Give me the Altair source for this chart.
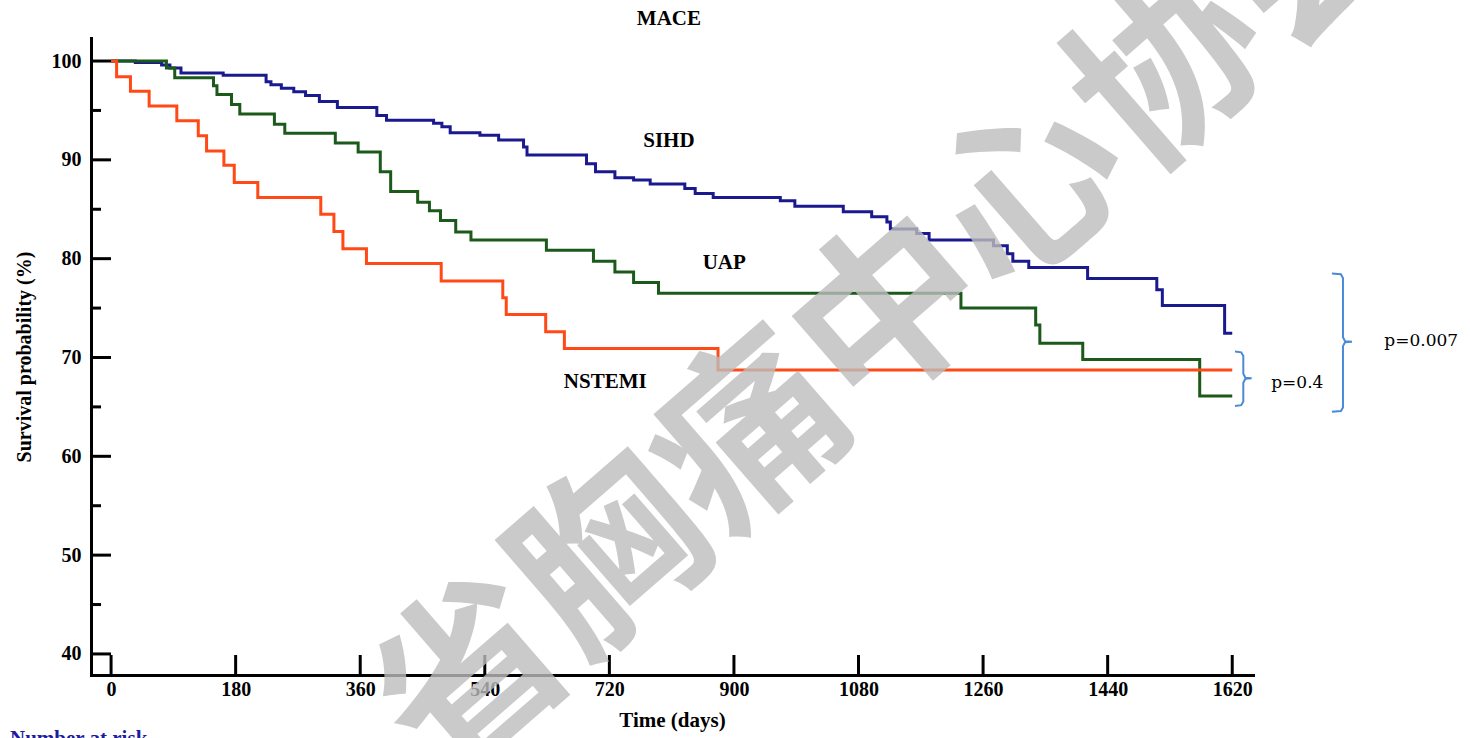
import altair as alt
import pandas as pd

# ---------------- data ----------------
groups = ["SIHD", "UAP", "NSTEMI"]
colors = ["#1a1a8e", "#1b5a1b", "#ff4a17"]

sihd_days = [0, 35, 73, 85, 101, 162, 224, 231, 246, 264, 281, 301, 327, 384, 398, 466, 478, 490,
             533, 560, 596, 601, 687, 700, 728, 755, 779, 829, 844, 870, 967, 988, 1058, 1099,
             1121, 1126, 1164, 1182, 1275, 1295, 1303, 1326, 1411, 1511, 1519, 1609, 1620]
sihd_surv = [100, 99.85, 99.6, 99.3, 98.8, 98.55, 97.9, 97.6, 97.25, 96.9, 96.5, 95.9, 95.3, 94.5,
             94.0, 93.7, 93.35, 92.75, 92.5, 92.0, 91.3, 90.5, 89.6, 88.8, 88.2, 87.95, 87.55, 87.1,
             86.6, 86.2, 85.85, 85.3, 84.75, 84.25, 83.7, 83.0, 82.55, 81.9, 81.3, 80.5, 79.75, 79.1,
             78.0, 76.85, 75.25, 72.45, 72.45]

uap_days = [0, 80, 92, 148, 153, 174, 186, 236, 251, 324, 357, 389, 404, 443, 460, 476, 498, 520,
            629, 697, 728, 755, 791, 1228, 1336, 1342, 1404, 1573, 1620]
uap_surv = [100, 99.3, 98.3, 97.5, 96.6, 95.6, 94.65, 93.6, 92.7, 91.7, 90.8, 88.8, 86.8, 85.7,
            84.85, 83.85, 82.7, 81.9, 80.85, 79.75, 78.65, 77.6, 76.5, 75.0, 73.3, 71.45, 69.8,
            66.1, 66.1]

nstemi_days = [0, 8, 28, 55, 95, 126, 138, 163, 178, 212, 303, 322, 335, 369, 477, 566, 571, 628,
               655, 877, 1620]
nstemi_surv = [100, 98.4, 96.95, 95.45, 93.95, 92.45, 90.9, 89.45, 87.7, 86.2, 84.5, 82.75, 81.0,
               79.5, 77.75, 76.05, 74.35, 72.6, 70.9, 68.73, 68.73]

x_ticks = [0, 180, 360, 540, 720, 900, 1080, 1260, 1440, 1620]
y_major = [40, 50, 60, 70, 80, 90, 100]
y_minor = [45, 55, 65, 75, 85, 95]

# text annotations (day, survival)
label_text = ["SIHD", "UAP", "NSTEMI", "MACE"]
label_day = [806, 886, 714, 806]
label_surv = [91.9, 79.6, 67.5, 104.3]

# p-value annotations
p_text = ["p=0.4", "p=0.007"]
p_day = [1714, 1893]
p_surv = [67.4, 71.7]

# braces: hook, bar, tip (days) ; top, mid, bottom (survival)
brace_hook = [1624, 1764]
brace_bar = [1636, 1780]
brace_tip = [1648, 1793]
brace_top = [70.6, 78.5]
brace_mid = [67.9, 71.6]
brace_bot = [65.1, 64.5]

watermark = "省胸痛中心协会"

# ---------------- build tables ----------------
rows = []
for g, ds, ss in zip(groups, [sihd_days, uap_days, nstemi_days],
                     [sihd_surv, uap_surv, nstemi_surv]):
    for d, s in zip(ds, ss):
        rows.append({"group": g, "day": d, "surv": s})
df = pd.DataFrame(rows)

brows = []
for b in range(2):
    h, bar, tip = brace_hook[b], brace_bar[b], brace_tip[b]
    t, m, bt = brace_top[b], brace_mid[b], brace_bot[b]
    pts = [(h, t), (bar - 3, t - 0.08), (bar, t - 0.45), (bar, m + 0.45), (bar + 3, m + 0.05),
           (tip, m), (bar + 3, m - 0.05), (bar, m - 0.45), (bar, bt + 0.45), (bar - 3, bt + 0.08),
           (h, bt)]
    for i, (xx, yy) in enumerate(pts):
        brows.append({"b": b, "i": i, "day": xx, "surv": yy})
bdf = pd.DataFrame(brows)

W, H = 1162, 637
xs = alt.Scale(domain=[-29, 1650], nice=False, zero=False)
ys = alt.Scale(domain=[37.87, 102.33], nice=False, zero=False)
SERIF = "Liberation Serif"

x_axis = alt.Axis(values=x_ticks, format="d", ticks=False, grid=False, domainColor="black",
                  domainWidth=3, domainCap="square", labelFont=SERIF, labelFontWeight="bold",
                  labelFontSize=20, labelColor="black", labelPadding=4, labelFlush=False,
                  title="Time (days)", titleFont=SERIF, titleFontWeight="bold", titleFontSize=21,
                  titleColor="black", titlePadding=10)
y_axis = alt.Axis(values=y_major, format="d", ticks=False, grid=False, domainColor="black",
                  domainWidth=3, domainCap="square", labelFont=SERIF, labelFontWeight="bold",
                  labelFontSize=20, labelColor="black", labelPadding=10, labelFlush=False,
                  title="Survival probability (%)", titleFont=SERIF, titleFontWeight="bold",
                  titleFontSize=20, titleColor="black", titlePadding=17)

X = alt.X("day:Q", scale=xs, axis=x_axis)
Y = alt.Y("surv:Q", scale=ys, axis=y_axis)

lines = alt.Chart(df).mark_line(interpolate="step-after", strokeWidth=3).encode(
    x=X, y=Y,
    color=alt.Color("group:N", scale=alt.Scale(domain=groups, range=colors), legend=None),
)

ymaj = alt.Chart(pd.DataFrame({"surv": y_major})).mark_rule(strokeWidth=3, color="black").encode(
    y=Y, x=alt.value(0), x2=alt.value(20))
ymin = alt.Chart(pd.DataFrame({"surv": y_minor})).mark_rule(strokeWidth=3, color="black").encode(
    y=Y, x=alt.value(0), x2=alt.value(10))
xtk = alt.Chart(pd.DataFrame({"day": x_ticks})).mark_rule(strokeWidth=3, color="black").encode(
    x=X, y=alt.value(H), y2=alt.value(H - 20))

labels = alt.Chart(pd.DataFrame({"t": label_text, "day": label_day, "surv": label_surv})).mark_text(
    font=SERIF, fontWeight="bold", fontSize=21, color="black", align="center", baseline="middle"
).encode(x=X, y=Y, text="t:N")

plabels = alt.Chart(pd.DataFrame({"t": p_text, "day": p_day, "surv": p_surv})).mark_text(
    font="DejaVu Serif", fontSize=17, color="black", align="center", baseline="middle"
).encode(x=X, y=Y, text="t:N")

braces = alt.Chart(bdf).mark_line(color="#4a8ad6", strokeWidth=2, interpolate="linear").encode(
    x=X, y=Y, detail="b:N", order="i:Q")

risk = alt.Chart(pd.DataFrame({"t": ["Number at risk"], "day": [-146], "surv": [30.8]})).mark_text(
    font=SERIF, fontWeight="bold", fontSize=21, color="#1c1c9c", align="left", baseline="alphabetic"
).encode(x=X, y=Y, text="t:N")

wm = alt.Chart(pd.DataFrame({"t": [watermark], "day": [1132], "surv": [74.0]})).mark_text(
    font="Noto Sans CJK SC", fontWeight="bold", fontSize=185, color="#bdbdbd", opacity=0.8,
    angle=319, align="center", baseline="middle"
).encode(x=X, y=Y, text="t:N")

chart = alt.layer(lines, ymaj, ymin, xtk, labels, plabels, braces, risk, wm).properties(
    width=W, height=H,
    autosize=alt.AutoSizeParams(type="none"),
    padding={"left": 91, "top": 38, "right": 217, "bottom": 63},
    background="white",
).configure_view(strokeWidth=0)

chart.save("out.html", embed_options={"renderer": "svg", "actions": False})
